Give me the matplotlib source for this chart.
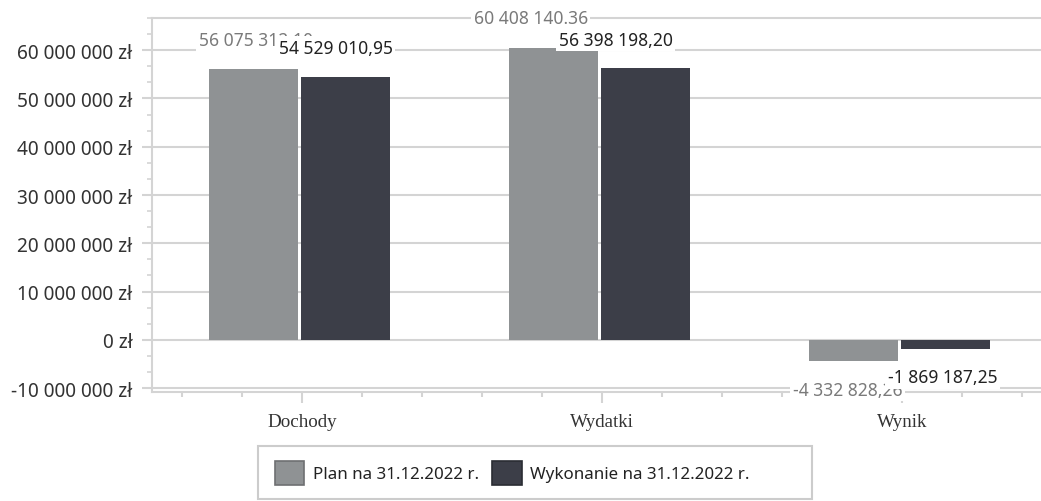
import matplotlib
matplotlib.use("Agg")
import matplotlib.pyplot as plt
from matplotlib.ticker import MultipleLocator, FuncFormatter, FixedLocator
from matplotlib.patches import Patch, Rectangle
import numpy as np

categories = ["Dochody", "Wydatki", "Wynik"]
plan_values = [56075312.10, 60408140.36, -4332828.26]
wyk_values = [54529010.95, 56398198.20, -1869187.25]
plan_labels = ["56 075 312,10", "60 408 140.36", "-4 332 828,26"]
wyk_labels = ["54 529 010,95", "56 398 198,20", "-1 869 187,25"]
series_names = ["Plan na 31.12.2022 r.", "Wykonanie na 31.12.2022 r."]

PLAN_C = "#8f9294"
WYK_C = "#3c3e48"
GRID_C = "#d4d4d4"
TXT_C = "#333333"
SANS = ["Noto Sans", "DejaVu Sans"]

W, H = 1041, 502
fig = plt.figure(figsize=(W / 100, H / 100), dpi=100)
ax = fig.add_axes([152 / W, 1 - 393 / H, (W - 152) / W, (393 - 19) / H])

x = np.arange(1, len(categories) + 1)
bw = 0.297
off_plan = -0.161
off_wyk = 0.146
ax.bar(x + off_plan, plan_values, bw, color=PLAN_C, zorder=3)
ax.bar(x + off_wyk, wyk_values, bw, color=WYK_C, zorder=3)

ax.set_xlim(0.5, 0.5 + (W - 152) / 300)
ax.set_ylim(-10.8e6, 66.667e6)

ax.yaxis.set_major_locator(MultipleLocator(10e6))
ax.yaxis.set_minor_locator(MultipleLocator(10e6 / 3))
ax.yaxis.set_major_formatter(FuncFormatter(lambda v, p: f"{v:,.0f}".replace(",", " ") + " zł"))
ax.xaxis.set_major_locator(FixedLocator(x))
ax.set_xticklabels(categories)
ax.xaxis.set_minor_locator(MultipleLocator(0.2))

ax.grid(axis="y", which="major", color=GRID_C, lw=1.5, zorder=0)
ax.spines["right"].set_visible(False)
for s in ["left", "bottom", "top"]:
    ax.spines[s].set_color(GRID_C)
    ax.spines[s].set_linewidth(1.5)

ax.tick_params(axis="y", which="major", length=7.2, width=1.5, color=GRID_C, pad=7, labelsize=13.7, labelcolor=TXT_C)
ax.tick_params(axis="y", which="minor", length=3.6, width=1.2, color=GRID_C)
ax.tick_params(axis="x", which="major", length=7.9, width=1.5, color=GRID_C, pad=7.5, labelsize=13.7, labelcolor=TXT_C)
ax.tick_params(axis="x", which="minor", length=3.6, width=1.5, color=GRID_C)
for lab in ax.get_yticklabels():
    lab.set_family(SANS)
for lab in ax.get_xticklabels():
    lab.set_family("Liberation Serif")

# label offsets in pixels (dx, dy) relative to the bar end
plan_off = [(2, 29), (-23, 30), (-6, -29)]
wyk_off = [(-10, 29), (-30, 28), (-3, -28)]

for i in range(len(categories)):
    ax.annotate(plan_labels[i], xy=(x[i] + off_plan, plan_values[i]), xytext=plan_off[i],
                textcoords="offset pixels", ha="center", va="center", fontsize=12.6,
                color="#7a7a7a", family=SANS, zorder=5,
                bbox=dict(boxstyle="square,pad=0.15", fc="white", ec="none"))
for i in range(len(categories)):
    ax.annotate(wyk_labels[i], xy=(x[i] + off_wyk, wyk_values[i]), xytext=wyk_off[i],
                textcoords="offset pixels", ha="center", va="center", fontsize=12.6,
                color="#222222", family=SANS, zorder=6,
                bbox=dict(boxstyle="square,pad=0.15", fc="white", ec="none"))

# legend frame
fig.patches.append(Rectangle((258 / W, 1 - 500 / H), (812 - 258) / W, (500 - 447) / H,
                             transform=fig.transFigure, fill=False, ec="#cccccc", lw=1.5))
handles = [Patch(facecolor=PLAN_C, edgecolor="#6e7072", lw=1.2),
           Patch(facecolor=WYK_C, edgecolor="#2a2c33", lw=1.2)]
leg = fig.legend(handles, series_names, loc="center left", bbox_to_anchor=(261 / W, 1 - 474 / H),
                 ncol=2, frameon=False, prop={"family": SANS, "size": 12.2},
                 handlelength=1.75, handleheight=1.75, handletextpad=0.5, columnspacing=0.8,
                 borderpad=0.3, labelcolor="#222222")

fig.savefig("out.png", dpi=100)
